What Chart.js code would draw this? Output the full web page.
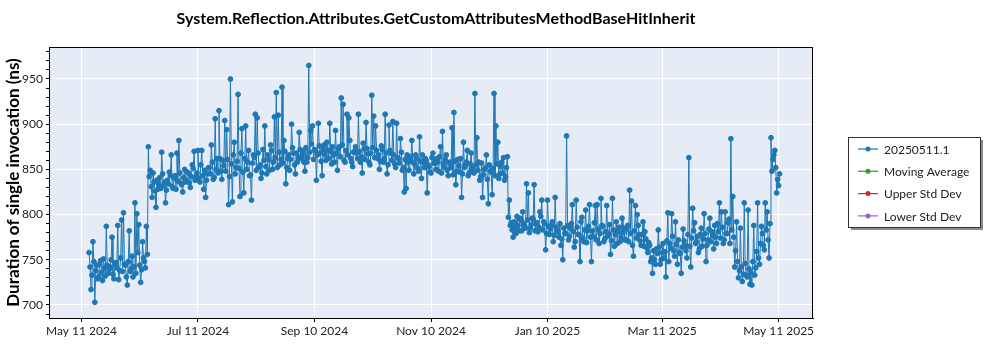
<!DOCTYPE html>
<html>
<head>
<meta charset="utf-8">
<title>GetCustomAttributesMethodBaseHitInherit</title>
<script src="https://cdn.jsdelivr.net/npm/chart.js@4.4.1/dist/chart.umd.min.js"></script>
<style>
  html, body { margin: 0; padding: 0; background: #fff; }
  #wrap { width: 1000px; height: 350px; }
</style>
</head>
<body>
<div id="wrap"><canvas id="perf-chart" width="1000" height="350"></canvas></div>
<script>
const chartTitle = "System.Reflection.Attributes.GetCustomAttributesMethodBaseHitInherit";
const yAxisTitle = "Duration of single invocation (ns)";

// x values are days counted from May 11 2024, first run on day 4
const firstDay = 4;
// morning runs (at whole days)
const durations = [
  758, 717, 770, 703, 744, 731, 749, 727, 741, 787,
  735, 742, 775, 729, 747, 788, 738, 794, 802, 744,
  722, 782, 740, 731, 813, 801, 789, 725, 770, 748,
  787,
  875, 849, 819, 836, 808, 828, 841, 869, 832, 813,
  838, 847, 866, 829, 843, 868, 882, 835, 825, 850,
  838, 846, 830, 855, 870, 842, 871, 836, 871, 828,
  819, 845, 852, 877, 839, 906, 862, 915, 848, 860,
  904, 894, 811, 950, 814, 880, 852, 933, 820, 895,
  824, 898, 858, 843, 816, 866, 911, 907, 852, 840,
  872, 898, 845, 861, 877, 850, 908, 935, 910, 855,
  941, 882, 834, 862, 849, 900, 868, 845, 858, 891,
  862, 870, 848, 858, 965, 893, 898, 872, 838, 901,
  868, 843, 877, 860, 871, 901, 856, 866, 893, 849,
  875, 929, 922, 858, 911, 907, 862, 853, 870, 868,
  911, 858, 846, 873, 902, 867, 855, 932, 909, 898,
  862, 850, 876, 858, 911, 845, 899, 868, 903, 856,
  901, 862, 884, 849, 825, 829, 858, 862, 882, 845,
  866, 851, 886, 840, 858, 862, 824, 853, 846, 868,
  857, 862, 848, 875, 892, 852, 866, 843, 858, 896,
  913, 833, 861, 847, 819, 880, 855, 871, 846, 868,
  852, 934, 885, 858, 842, 819, 850, 866, 812, 848,
  822, 934, 898, 880, 845, 858, 863, 842, 864, 816,
  791, 775, 786, 798, 782, 794, 803, 788, 834, 824,
  785, 796, 833, 790, 781, 803, 816, 792, 761, 816,
  778, 788, 770, 819, 782, 775, 766, 750, 779, 887,
  772, 785, 811, 764, 816, 778, 748, 797, 770, 805,
  782, 811, 748, 776, 810, 811, 768, 818, 787, 773,
  810, 779, 756, 818, 765, 792, 781, 770, 796, 785,
  772, 788, 827, 815, 754, 810, 800, 778, 766, 792,
  781, 763, 769, 748, 735, 750, 762, 783, 745, 758,
  752, 731, 802, 768, 801, 760, 792, 745, 758, 735,
  784, 766, 752, 863, 742, 807, 791, 770, 758, 778,
  765, 801, 748, 772, 796, 781, 762, 775, 790, 813,
  803, 768, 803, 779, 795, 884, 820, 742, 792, 730,
  785, 726, 813, 733, 805, 723, 722, 788, 741, 813,
  745, 787, 766, 813, 803, 752, 885, 861, 871, 824, 832
];
// evening runs (half a day later)
const durationsLate = [
  742, 733, 748, 738, 729, 745, 736, 751, 732, 744,
  739, 750, 734, 746, 741, 728, 752, 737, 745, 731,
  748, 737, 754, 742, 735, 758, 744, 739, 752, 741,
  756,
  842, 831, 846, 826, 838, 833, 829, 845, 836, 827,
  834, 843, 831, 840, 828, 837, 846, 833, 841, 836,
  847, 835, 842, 851, 838, 846, 840, 855, 843, 849,
  838, 852, 845, 858, 841, 850, 846, 862, 839, 854,
  848, 861, 842, 856, 866, 845, 859, 851, 868, 847,
  862, 850, 871, 844, 857, 863, 849, 868, 855, 846,
  860, 853, 866, 849, 871, 858, 863, 852, 869, 861,
  857, 870, 852, 866, 861, 874, 855, 868, 863, 872,
  866, 858, 874, 863, 869, 878, 861, 871, 866, 876,
  859, 872, 866, 880, 862, 870, 875, 858, 868, 873,
  864, 877, 860, 871, 866, 882, 858, 869, 875, 862,
  870, 864, 879, 861, 873, 858, 868, 874, 863, 871,
  866, 859, 872, 862, 868, 855, 871, 860, 866, 852,
  863, 857, 869, 852, 861, 866, 849, 864, 858, 856,
  862, 848, 859, 866, 852, 860, 855, 847, 863, 857,
  850, 858, 864, 846, 856, 861, 849, 857, 852, 844,
  859, 848, 854, 862, 845, 852, 858, 843, 856, 850,
  846, 855, 849, 838, 857, 844, 852, 839, 855, 847,
  851, 843, 856, 840, 853, 846, 838, 852, 797, 788,
  783, 792, 779, 788, 796, 782, 790, 785, 794, 780,
  789, 795, 782, 791, 786, 798, 783, 790, 779, 787,
  784, 792, 777, 786, 781, 790, 773, 785, 779, 788,
  776, 790, 781, 770, 786, 778, 792, 774, 783, 769,
  787, 775, 782, 791, 772, 784, 779, 788, 770, 781,
  776, 789, 771, 783, 778, 768, 786, 775, 780, 772,
  784, 770, 779, 766, 782, 774, 788, 771, 778, 765,
  773, 758, 766, 752, 760, 745, 757, 764, 750, 768,
  759, 771, 748, 763, 776, 754, 767, 772, 757, 764,
  771, 760, 778, 765, 774, 782, 768, 776, 762, 785,
  773, 779, 766, 784, 770, 777, 788, 768, 781, 774,
  786, 772, 779, 791, 768, 783, 775, 760, 748, 738,
  742, 734, 746, 731, 740, 736, 748, 733, 759, 752,
  768, 779, 761, 783, 772, 790, 848, 866, 852, 839, 845
];

const xTickDays = [0, 61, 122, 183, 244, 304, 365];
const xTickLabels = ["May 11 2024", "Jul 11 2024", "Sep 10 2024", "Nov 10 2024", "Jan 10 2025", "Mar 11 2025", "May 11 2025"];
const seriesNames = ["20250511.1", "Moving Average", "Upper Std Dev", "Lower Std Dev"];
const seriesColors = ["#1f77b4", "#2ca02c", "#d62728", "#9467bd"];

const tickFont = { family: "Lato, 'Open Sans', sans-serif", size: 12 };

document.addEventListener("DOMContentLoaded", function () {
  createPerfChart();
});

// plot background, frame, title and the boxed legend on the right
const framePlugin = {
  id: "frame",
  beforeDraw(chart) {
    const { ctx, chartArea: a } = chart;
    ctx.save();
    ctx.fillStyle = "#fff";
    ctx.fillRect(0, 0, chart.width, chart.height);
    ctx.fillStyle = "#e5ecf6";
    ctx.fillRect(a.left, a.top, a.right - a.left, a.bottom - a.top);
    ctx.restore();
  },
  afterDraw(chart) {
    const { ctx, chartArea: a } = chart;
    ctx.save();
    ctx.strokeStyle = "#000";
    ctx.lineWidth = 1;
    ctx.strokeRect(a.left + 0.5, a.top + 0.5, a.right - a.left - 1, a.bottom - a.top);

    ctx.fillStyle = "#000";
    ctx.font = "bold 16px Lato, 'Open Sans', sans-serif";
    ctx.textAlign = "center";
    ctx.textBaseline = "middle";
    ctx.fillText(chartTitle, (a.left + a.right) / 2 + 5, 19);

    // legend box with shadow
    const lx = 848, ly = 137, lw = 132, lh = 90;
    ctx.fillStyle = "#8a8a8a";
    ctx.fillRect(lx + 3, ly + 3, lw, lh);
    ctx.fillStyle = "#fff";
    ctx.fillRect(lx, ly, lw, lh);
    ctx.strokeStyle = "#333";
    ctx.strokeRect(lx + 0.5, ly + 0.5, lw, lh);

    ctx.font = "12px Lato, 'Open Sans', sans-serif";
    ctx.textAlign = "left";
    chart.data.datasets.forEach((ds, i) => {
      const y = ly + 12 + i * 22.3;
      ctx.strokeStyle = ds.borderColor;
      ctx.lineWidth = 1.2;
      ctx.beginPath();
      ctx.moveTo(lx + 10, y);
      ctx.lineTo(lx + 30, y);
      ctx.stroke();
      ctx.fillStyle = ds.borderColor;
      ctx.beginPath();
      ctx.arc(lx + 20, y, 2.5, 0, Math.PI * 2);
      ctx.fill();
      ctx.fillStyle = "#222";
      ctx.fillText(ds.label, lx + 36, y + 1);
    });
    ctx.restore();
  },
};

function createPerfChart() {
  const ctx = document.getElementById("perf-chart");
  if (!ctx) return;

  const points = [];
  durations.forEach((v, i) => {
    points.push({ x: firstDay + i, y: v });
    points.push({ x: firstDay + i + 0.5, y: durationsLate[i] });
  });

  const datasets = seriesNames.map((name, i) => ({
    label: name,
    data: i === 0 ? points : [],
    borderColor: seriesColors[i],
    backgroundColor: seriesColors[i],
    borderWidth: 1,
    pointRadius: 2.4,
    pointBorderWidth: 1,
    pointHoverRadius: 3,
    tension: 0,
  }));

  new Chart(ctx, {
    type: "line",
    data: { datasets: datasets },
    plugins: [framePlugin],
    options: {
      responsive: false,
      animation: false,
      layout: { padding: { top: 47, right: 187, bottom: 0, left: 0 } },
      plugins: {
        legend: { display: false },
        title: { display: false },
        tooltip: { enabled: false },
      },
      scales: {
        x: {
          type: "linear",
          min: -17,
          max: 383,
          afterBuildTicks: function (axis) {
            axis.ticks = xTickDays.map((d) => ({ value: d }));
          },
          afterFit: function (axis) {
            axis.height = 32;
          },
          ticks: {
            autoSkip: false,
            maxRotation: 0,
            color: "#222",
            font: tickFont,
            padding: 2,
            callback: function (value) {
              const k = xTickDays.indexOf(value);
              return k >= 0 ? xTickLabels[k] : "";
            },
          },
          grid: {
            color: "#fff",
            lineWidth: 1,
            tickColor: "#000",
            tickLength: 4,
          },
          border: { display: true, color: "#000" },
        },
        y: {
          type: "linear",
          min: 685.6,
          max: 985.4,
          afterBuildTicks: function (axis) {
            const ticks = [];
            for (let v = 690; v <= 980; v += 10) ticks.push({ value: v });
            axis.ticks = ticks;
          },
          afterFit: function (axis) {
            axis.width = 49;
          },
          ticks: {
            autoSkip: false,
            color: "#222",
            font: tickFont,
            padding: 3,
            callback: function (value) {
              return value % 50 === 0 ? value : "";
            },
          },
          grid: {
            color: function (c) {
              return c.tick && c.tick.value % 50 === 0 ? "#fff" : "rgba(0,0,0,0)";
            },
            tickColor: "#000",
            tickLength: 3,
          },
          border: { display: true, color: "#000" },
          title: {
            display: true,
            text: yAxisTitle,
            color: "#000",
            font: { family: "Lato, 'Open Sans', sans-serif", size: 17, weight: "bold" },
            padding: { top: 3, bottom: 0 },
          },
        },
      },
    },
  });
}
</script>
</body>
</html>
